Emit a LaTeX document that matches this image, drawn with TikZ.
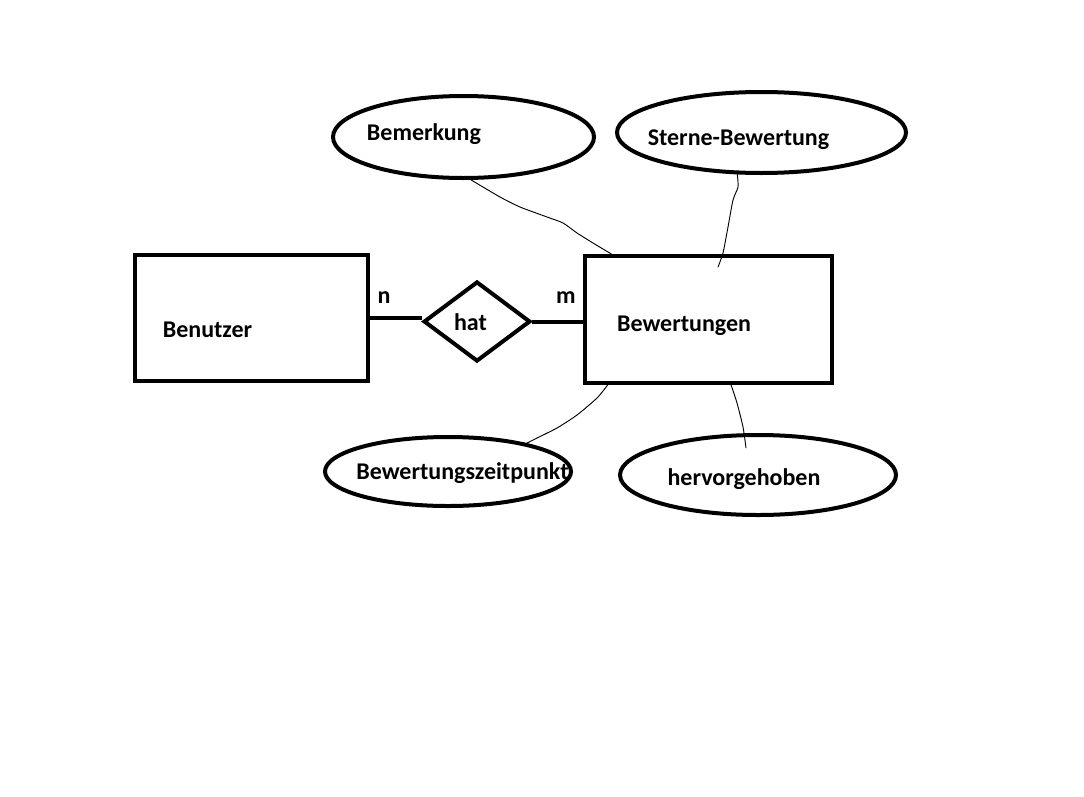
\documentclass[tikz,border=0pt]{standalone}
\usepackage{fontspec}
\setmainfont{Carlito}
\usetikzlibrary{shapes.geometric}

\begin{document}
\begin{tikzpicture}
[x=0.75pt,y=-0.75pt,
entity/.style={draw,line width=3pt,rectangle,inner sep=0pt},
attrib/.style={draw,line width=3pt,ellipse,inner sep=0pt},
relation/.style={draw,line width=3pt,diamond,inner sep=0pt},
word/.style={font=\fontsize{18}{21}\selectfont\bfseries,inner sep=0pt,anchor=base},
thin/.style={line width=0.7pt,line cap=round,line join=round}]
\useasboundingbox (0,0) rectangle (1084,796);
\fill[white] (0,0) rectangle (1084,796);
% entities and relation
\node[entity,minimum width=174.75pt,minimum height=94.5pt] (ben) at (251.5,318) {};
\node[entity,minimum width=185.25pt,minimum height=95.25pt] (bew) at (708.5,319.5) {};
\node[relation,minimum width=80pt,minimum height=60pt] (hat) at (477,321.5) {};
\node[word] (benT) at (207.5,337) {Benutzer}; \node[word] (bewT) at (684,331) {Bewertungen}; \node[word] (hatT) at (470.5,330) {hat};
\node[word] (n) at (384,303) {n}; \node[word] (m) at (566,303) {m};
\draw[line width=3pt] (ben.east) -- (ben.east -| hat.west); \draw[line width=3pt] (hat.east) -- (hat.east -| bew.west);
% attributes
\node[attrib,minimum width=195.75pt,minimum height=61.5pt] (bem) at (463.5,137) {};
\node[attrib,minimum width=216.75pt,minimum height=60.75pt] (ster) at (761.5,132.5) {};
\node[attrib,minimum width=184.5pt,minimum height=51.75pt] (bzp) at (448,471.5) {};
\node[attrib,minimum width=207pt,minimum height=60pt] (her) at (758,475) {};
\node[word] (bemT) at (424,140) {Bemerkung}; \node[word] (sterT) at (738.5,145) {Sterne-Bewertung};
\node[word] (bzpT) at (462.5,479) {Bewertungszeitpunkt}; \node[word] (herT) at (744,485) {hervorgehoben};
% links
\coordinate (sterEnd) at (718,267); \coordinate (herEnd) at (746,448);
\draw[thin] plot[smooth,tension=0.4] coordinates {(bem.-80) (500,197) (520,207) (547,217) (563,223) (577,233) (593,243) (bew.146)};
\draw[thin] plot[smooth,tension=0.4] coordinates {(ster.-120) (738,187) (733,200) (728,227) (723,253) (sterEnd)};
\draw[thin] plot[smooth,tension=0.4] coordinates {(bew.-147) (597,398) (577,415) (557,428) (537,438) (523,445) (bzp.21)};
\draw[thin] plot[smooth,tension=0.4] coordinates {(bew.-71) (737,403) (743,427) (herEnd)};
\end{tikzpicture}
\end{document}
